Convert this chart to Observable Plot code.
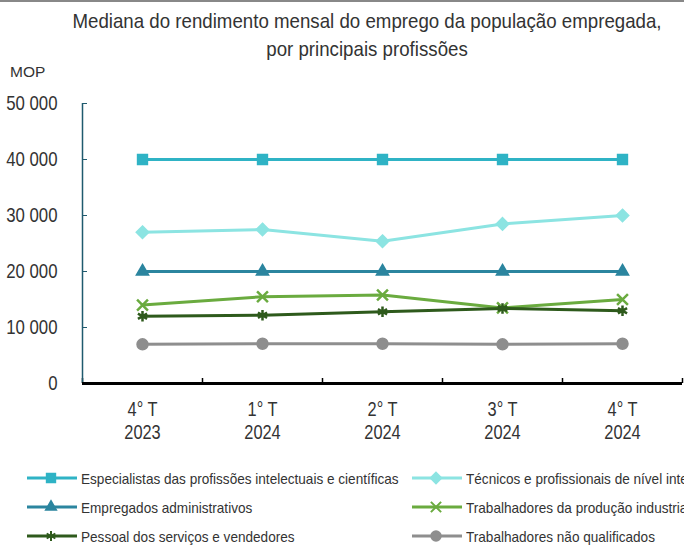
<!DOCTYPE html>
<html><head><meta charset="utf-8">
<script src="https://cdn.jsdelivr.net/npm/d3@7"></script>
<script src="https://cdn.jsdelivr.net/npm/@observablehq/plot@0.6"></script>
<style>
body{margin:0;background:#fff;width:684px;overflow:hidden;font-family:"Liberation Sans",Arial,sans-serif;color:#333;}
#top{position:relative;height:62px;border-top:2px solid #888;box-sizing:border-box;}
#title{position:absolute;left:0;width:734px;top:5px;text-align:center;font-size:21px;line-height:28px;color:#333;transform:scaleX(0.89);transform-origin:367px 0;white-space:nowrap;}
#mop{position:absolute;left:10px;top:61px;font-size:15.5px;color:#333;}
#legend{position:relative;height:92px;}
.item{position:absolute;display:flex;align-items:center;font-size:15px;white-space:nowrap;color:#333;}
.item svg{margin-right:4px;flex:none;}
.item span{display:inline-block;transform:scaleX(0.905);transform-origin:0 50%;}
</style></head>
<body>
<div id="top"><div id="title">Mediana do rendimento mensal do emprego da população empregada,<br>por principais profissões</div><div id="mop">MOP</div></div>
<div id="chart"></div>
<div id="legend"></div>
<script>
const quarters = ["4° T\n2023","1° T\n2024","2° T\n2024","3° T\n2024","4° T\n2024"];
const seriesNames = [
  "Especialistas das profissões intelectuais e científicas",
  "Técnicos e profissionais de nível intermédio",
  "Empregados administrativos",
  "Trabalhadores da produção industrial",
  "Pessoal dos serviços e vendedores",
  "Trabalhadores não qualificados"
];
const especialistas = [40000,40000,40000,40000,40000];
const tecnicos      = [27000,27500,25400,28500,30000];
const administrativos = [20000,20000,20000,20000,20000];
const producao      = [14000,15500,15800,13500,15000];
const servicos      = [12000,12200,12800,13400,13000];
const naoQualificados = [7000,7100,7100,7000,7100];
const yTicks = [0,10000,20000,30000,40000,50000];

const colors = ["#2FB3C5","#8CE4E2","#2B859F","#6AAB3F","#2E5A1C","#8E8E8E"];
const symbols = ["square","diamond2","triangle2","times","asterisk","circle"];
const values = [especialistas,tecnicos,administrativos,producao,servicos,naoQualificados];

const data = [];
values.forEach((arr,s)=>arr.forEach((v,i)=>data.push({series:seriesNames[s],i,value:v})));
const boundaries = d3.range(quarters.length+1).map(k=>k-0.5);

const W=684,H=393,mL=82,mR=2,mT=41,mB=72;
const fmt = d=>d3.format(",")(d).replace(/,/g," ");
const font = '"Liberation Sans",Arial,sans-serif';

const plot = Plot.plot({
  width:W,height:H,marginLeft:mL,marginRight:mR,marginTop:mT,marginBottom:mB,
  style:{fontFamily:font,fontSize:"20px",color:"#333",background:"#fff"},
  x:{type:"linear",domain:[-0.5,quarters.length-0.5]},
  y:{domain:[0,50000]},
  color:{domain:seriesNames,range:colors},
  symbol:{domain:seriesNames,range:symbols},
  marks:[
    Plot.axisY({ticks:yTicks,tickFormat:fmt,tickSize:0,tickPadding:25,fontSize:20,label:null}),
    Plot.axisX({ticks:d3.range(quarters.length),tickFormat:i=>quarters[i],tickSize:0,tickPadding:16,fontSize:20,lineHeight:1.15,label:null}),
    Plot.tickY(yTicks,{y:d=>d,stroke:"#1F5A6E",strokeWidth:1,insetRight:W-mL-mR-5}),
    Plot.tickX(boundaries,{x:d=>d,stroke:"#000",strokeWidth:1.5,insetTop:H-mT-mB-5}),
    Plot.ruleX([-0.5],{stroke:"#1F5A6E",strokeWidth:1.5}),
    Plot.ruleY([0],{stroke:"#000",strokeWidth:3}),
    Plot.line(data,{x:"i",y:"value",z:"series",stroke:"series",strokeWidth:3}),
    Plot.dot(data,{x:"i",y:"value",symbol:"series",fill:"series",stroke:"series",r:5,strokeWidth:2.5})
  ]
});
function condense(sel, s){
  plot.querySelectorAll(sel).forEach(t=>{
    const tr = t.getAttribute("transform");
    if (tr) t.setAttribute("transform", tr+` scale(${s},1)`);
    else { const x=+(t.getAttribute("x")||0); t.setAttribute("transform",`translate(${x},0) scale(${s},1) translate(${-x},0)`); }
  });
}
condense('g[aria-label="y-axis tick label"] text',0.84);
condense('g[aria-label="x-axis tick label"] text',0.82);
document.getElementById("chart").appendChild(plot);

// legend
const pos = [[27,23],[412,23],[27,52],[412,52],[27,81],[412,81]];
const leg = document.getElementById("legend");
const symMap = {square:d3.symbolSquare,diamond2:d3.symbolDiamond2,triangle2:d3.symbolTriangle2,times:d3.symbolTimes,asterisk:d3.symbolAsterisk,circle:d3.symbolCircle};
seriesNames.forEach((name,k)=>{
  const d = document.createElement("div");
  d.className="item";
  d.style.left=pos[k][0]+"px"; d.style.top=(pos[k][1]-10)+"px";
  const svg = d3.create("svg").attr("width",50).attr("height",20);
  svg.append("line").attr("x1",0).attr("x2",50).attr("y1",10).attr("y2",10).attr("stroke",colors[k]).attr("stroke-width",3);
  svg.append("path").attr("d",d3.symbol(symMap[symbols[k]],70)()).attr("transform","translate(24,10)")
    .attr("fill",colors[k]).attr("stroke",colors[k]).attr("stroke-width",2);
  d.appendChild(svg.node());
  const t=document.createElement("span"); t.textContent=name; d.appendChild(t);
  leg.appendChild(d);
});
</script>
</body></html>
